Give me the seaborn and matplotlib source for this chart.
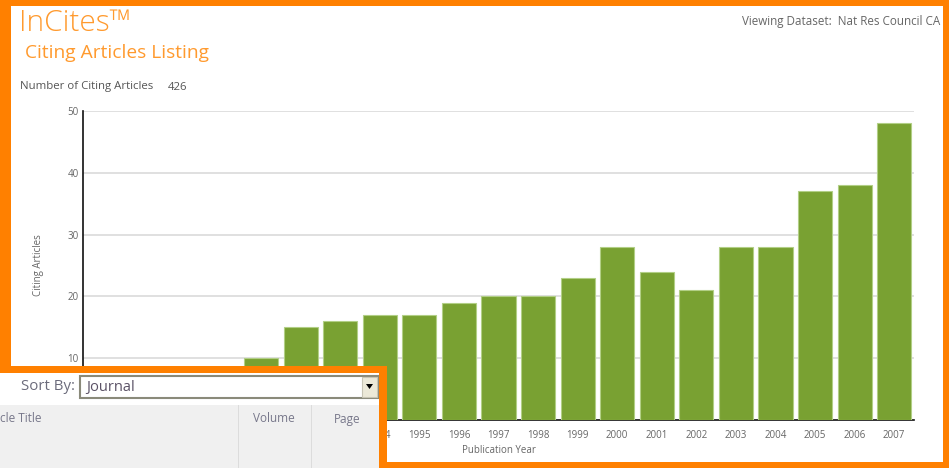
import matplotlib
matplotlib.use('Agg')
import matplotlib.pyplot as plt
from matplotlib.patches import Rectangle, Polygon
import seaborn as sns
import pandas as pd

# data
years = [str(y) for y in range(1987, 2008)]
citing = [2, 3, 5, 7, 10, 15, 16, 17, 17, 19, 20, 20, 23, 28, 24, 21, 28, 28, 37, 38, 48]
total_citing = 426
y_ticks = [10, 20, 30, 40, 50]

W, H = 949, 468
ORANGE = '#ff8000'
TITLE_ORANGE = '#ff9a2e'
GREEN = '#79a132'
GREY_TXT = '#666666'

sns.set_style('white')
plt.rcParams['font.family'] = ['Open Sans', 'DejaVu Sans']

fig = plt.figure(figsize=(W / 100, H / 100), dpi=100, facecolor='white')


def fx(x):
    return x / W


def fy(y):
    return 1 - y / H


def rect(x0, y0, x1, y1, **kw):
    r = Rectangle((fx(x0), fy(y1)), fx(x1) - fx(x0), fy(y0) - fy(y1),
                  transform=fig.transFigure, **kw)
    fig.add_artist(r)
    return r


# chart
ax = fig.add_axes([fx(83), fy(420), fx(914) - fx(83), fy(111) - fy(420)])
df = pd.DataFrame({'year': years, 'count': citing})
sns.barplot(data=df, x='year', y='count', color=GREEN, saturation=1, width=0.86,
            edgecolor='#b2cf86', linewidth=0.8, ax=ax, zorder=3)
ax.set_ylim(0, 50)
ax.set_xlim(-0.5, len(years) - 0.5)
ax.set_yticks(y_ticks)
ax.yaxis.grid(True, color='#dadada', linewidth=1.2, zorder=0)
ax.set_axisbelow(True)
for s in ['top', 'right']:
    ax.spines[s].set_visible(False)
ax.spines['left'].set_color('#111111')
ax.spines['bottom'].set_color('#111111')
ax.spines['left'].set_linewidth(1.2)
ax.spines['bottom'].set_linewidth(1.2)
ax.tick_params(axis='both', length=0, labelsize=7, labelcolor=GREY_TXT)
ax.tick_params(axis='x', pad=7)
ax.tick_params(axis='y', pad=3)
ax.set_xlabel('Publication Year', fontsize=7, color=GREY_TXT, labelpad=3)
ax.set_ylabel('Citing Articles', fontsize=7, color=GREY_TXT)
ax.yaxis.set_label_coords((44 - 83) / (914 - 83), (420 - 265) / (420 - 111))

# header texts
fig.text(fx(19), fy(23), 'InCites\u2122', fontsize=21.5, color=TITLE_ORANGE,
         va='center', ha='left', fontweight='light')
fig.text(fx(25), fy(53), 'Citing Articles Listing', fontsize=13.8, color=TITLE_ORANGE,
         va='center', ha='left')
fig.text(fx(20), fy(87), 'Number of Citing Articles', fontsize=8.2, color='#555555',
         va='center', ha='left')
fig.text(fx(168), fy(87), str(total_citing), fontsize=8.2, color='#555555',
         va='center', ha='left')
fig.text(fx(940), fy(22), 'Viewing Dataset:  Nat Res Council CA', fontsize=8.4,
         color='#666666', va='center', ha='right')

# main orange frame
rect(0, 0, 11, H, facecolor=ORANGE, edgecolor='none', zorder=20)
rect(0, 0, W, 6, facecolor=ORANGE, edgecolor='none', zorder=20)
rect(943, 0, W, H, facecolor=ORANGE, edgecolor='none', zorder=20)
rect(0, 462, W, H, facecolor=ORANGE, edgecolor='none', zorder=20)

# overlapping sort panel
rect(0, 373, 379, H, facecolor='white', edgecolor='none', zorder=30)
rect(0, 405, 379, H, facecolor='#f0f0f0', edgecolor='none', zorder=31)
rect(0, 366, 387, 373, facecolor=ORANGE, edgecolor='none', zorder=32)
rect(379, 366, 387, H, facecolor=ORANGE, edgecolor='none', zorder=32)
rect(80, 376, 378, 398, facecolor='white', edgecolor='#8a8a7a', linewidth=1.5, zorder=33)
rect(362, 377, 377, 397, facecolor='#ece9d8', edgecolor='#c8c5b5', linewidth=0.8, zorder=34)
fig.add_artist(Polygon([(fx(366), fy(384)), (fx(373), fy(384)), (fx(369.5), fy(389))],
                       closed=True, facecolor='black', edgecolor='none',
                       transform=fig.transFigure, zorder=35))
for xl in [238, 311]:
    rect(xl, 405, xl + 1, H, facecolor='#dcdcdc', edgecolor='none', zorder=33)

fig.text(fx(75), fy(387), 'Sort By:', fontsize=10.8, color='#6b6b7b',
         va='center', ha='right', zorder=36)
fig.text(fx(86), fy(388), 'Journal', fontsize=10.5, color='#5b5266',
         va='center', ha='left', zorder=36)
fig.text(fx(0), fy(419), 'cle Title', fontsize=8.5, color='#77778a',
         va='center', ha='left', zorder=36)
fig.text(fx(274), fy(419), 'Volume', fontsize=8.5, color='#77778a',
         va='center', ha='center', zorder=36)
fig.text(fx(347), fy(419), 'Page', fontsize=8.5, color='#77778a',
         va='center', ha='center', zorder=36)

fig.savefig('out.png', dpi=100, facecolor='white')
